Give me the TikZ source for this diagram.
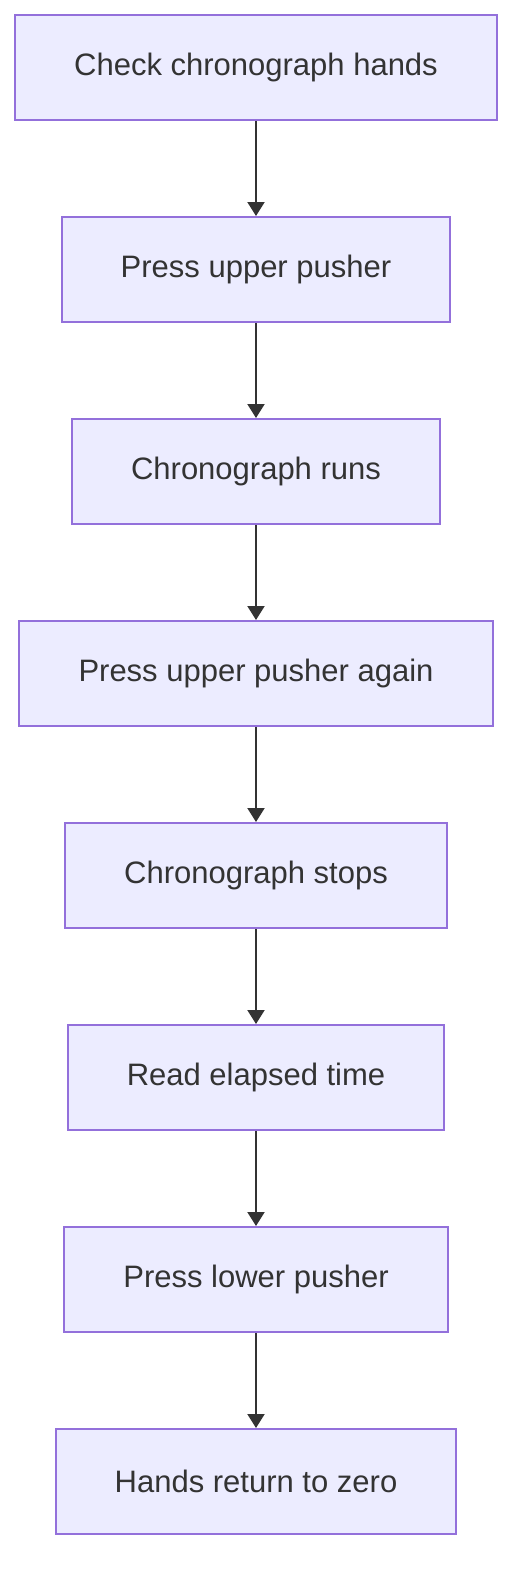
\documentclass[tikz,border=0pt]{standalone}
\usepackage{fontspec}
\setmainfont{Liberation Sans}
\usetikzlibrary{arrows.meta}
\definecolor{boxfill}{HTML}{ECECFF}
\definecolor{boxline}{HTML}{9370DB}
\definecolor{ink}{HTML}{333333}
\begin{document}
\begin{tikzpicture}[x=1pt,y=-1pt,
  stepbox/.style={draw=boxline,fill=boxfill,line width=2pt,minimum height=105pt,inner sep=0pt,
    text=ink,font=\fontsize{31}{37}\selectfont},
  flow/.style={draw=ink,line width=2pt,-{Triangle[length=14pt,width=17pt]}}]
\useasboundingbox (0,0) rectangle (528,1596);
\node[stepbox,minimum width=482pt] (n1) at (256,67.5) {Check chronograph hands};
\node[stepbox,minimum width=388pt] (n2) at (256,269.5) {Press upper pusher};
\node[stepbox,minimum width=368pt] (n3) at (256,471.5) {Chronograph runs};
\node[stepbox,minimum width=474pt] (n4) at (256,673.5) {Press upper pusher again};
\node[stepbox,minimum width=382pt] (n5) at (256,875.5) {Chronograph stops};
\node[stepbox,minimum width=376pt] (n6) at (256,1077.5) {Read elapsed time};
\node[stepbox,minimum width=384pt] (n7) at (256,1279.5) {Press lower pusher};
\node[stepbox,minimum width=400pt] (n8) at (256,1481.5) {Hands return to zero};
\draw[flow] (n1) -- (n2);
\draw[flow] (n2) -- (n3);
\draw[flow] (n3) -- (n4);
\draw[flow] (n4) -- (n5);
\draw[flow] (n5) -- (n6);
\draw[flow] (n6) -- (n7);
\draw[flow] (n7) -- (n8);
\end{tikzpicture}
\end{document}
